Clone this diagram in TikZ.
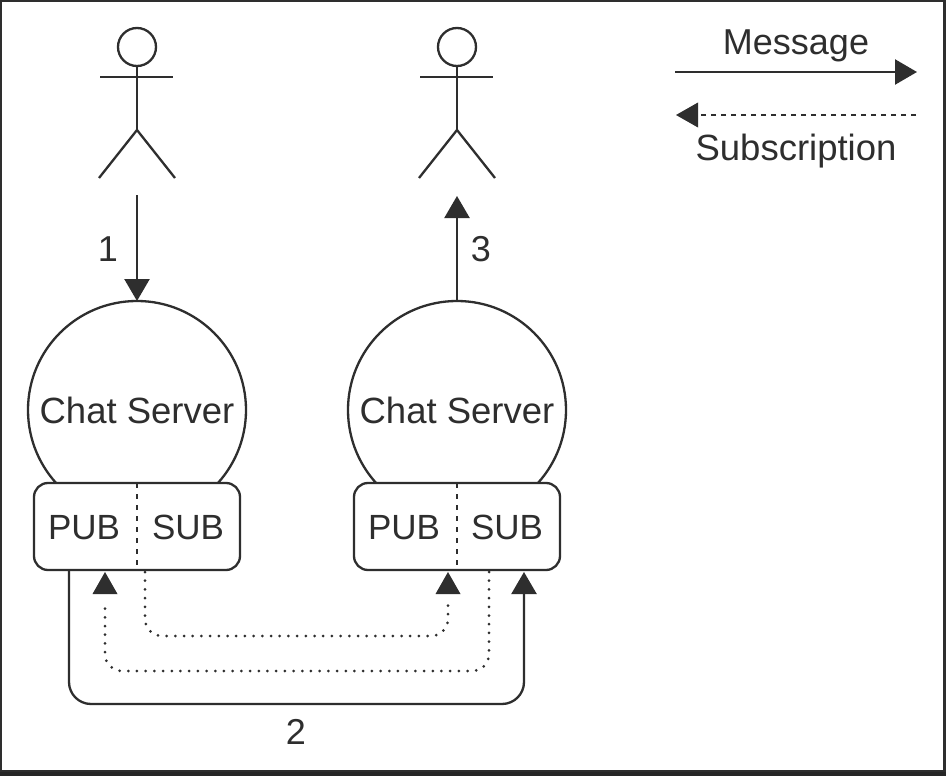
\documentclass[tikz,border=0pt]{standalone}
\usepackage{fontspec}
\setmainfont{Liberation Sans}
\usetikzlibrary{arrows.meta}
\definecolor{ink}{HTML}{2E2E2E}
\tikzset{
  x=1pt,y=-1pt,
  every node/.style={text=ink,inner sep=0pt,outer sep=0pt},
  line/.style={draw=ink,line width=2.3pt},
  msg/.style={line,-{Triangle[length=22pt,width=25pt]}},
  subs/.style={draw=ink,line width=3pt,line cap=round,dash pattern=on 0pt off 8.7pt,rounded corners=17pt},
  subtip/.style={fill=ink,draw=none},
  server/.style={circle,line,minimum size=218pt,font=\fontsize{36.5}{36.5}\selectfont},
  sock/.style={line,fill=white,rounded corners=14pt,minimum width=206pt,minimum height=87pt},
  lbl/.style={font=\fontsize{36}{36}\selectfont},
  plbl/.style={font=\fontsize{35}{35}\selectfont,anchor=base},
  head/.style={circle,line,minimum size=38pt},
  partdiv/.style={draw=ink,line width=2.4pt,dash pattern=on 5pt off 6pt}
}
\newcommand{\stick}[2]{%
  \node[head] (#2h) at (#1,47) {};
  \coordinate (#2hip) at (#1,130);
  \coordinate (#2la) at (#1-37,77);
  \coordinate (#2ra) at (#1+36,77);
  \coordinate (#2ll) at (#1-38,178);
  \coordinate (#2rl) at (#1+38,178);
  \draw[line] (#2h.south) -- (#2hip);
  \draw[line] (#2la) -- (#2ra);
  \draw[line] (#2ll) -- (#2hip) -- (#2rl);
}
\begin{document}
\begin{tikzpicture}
\useasboundingbox (0,0) rectangle (946,776);
\fill[white] (0,0) rectangle (946,776);
% frame
\draw[draw=ink,line width=2.5pt] (1,1) -- (944.5,1) -- (944.5,771) -- (1,771) -- cycle;
\fill[black!85] (0,772) rectangle (946,776);

\stick{137}{a}
\stick{457}{b}

\node[server] (s1) at (137,410) {Chat Server};
\node[server] (s2) at (457,410) {Chat Server};

\node[sock] (k1) at (137,526.5) {};
\node[sock] (k2) at (457,526.5) {};
\draw[partdiv] (k1.north) -- (k1.south);
\draw[partdiv] (k2.north) -- (k2.south);
\node[plbl] (p1) at (84,539) {PUB};
\node[plbl] (q1) at (188,539) {SUB};
\node[plbl] (p2) at (404,539) {PUB};
\node[plbl] (q2) at (507,539) {SUB};

% messages 1 and 3
\coordinate (afoot) at (137,195);
\coordinate (bfoot) at (457,196);
\draw[msg] (afoot) -- (s1.north);
\draw[msg] (s2.north) -- (bfoot);
\node[lbl] (n1) at (108,249) {1};
\node[lbl] (n3) at (481,249) {3};

% bus
\coordinate (m1) at (69,570);
\coordinate (m2) at (524,572);
\draw[msg,rounded corners=22pt] (m1) -- (69,704) -- (524,704) -- (m2);
\node[lbl] (n2) at (296,732) {2};

% subscriptions
\coordinate (u1) at (145,572);
\coordinate (t1) at (448,602);
\draw[subs] (u1) -- (145,636) -- (448,636) -- (t1);
\coordinate (u2) at (489,572);
\coordinate (t2) at (105,602);
\draw[subs] (u2) -- (489,671) -- (105,671) -- (t2);
\fill[subtip] (448,572) -- (460.5,594) -- (435.5,594) -- cycle;
\fill[subtip] (105,572) -- (117.5,594) -- (92.5,594) -- cycle;

% legend
\node[lbl] (lm) at (796,46) {Message};
\coordinate (lm1) at (675,72);
\coordinate (lm2) at (917,72);
\draw[msg] (lm1) -- (lm2);
\coordinate (ls1) at (916,115);
\coordinate (ls2) at (698,115);
\draw[draw=ink,line width=2.2pt,dash pattern=on 5pt off 5pt] (ls1) -- (ls2);
\fill[subtip] (676,115) -- (698,102.5) -- (698,127.5) -- cycle;
\node[font=\fontsize{36.5}{36.5}\selectfont] (ls) at (796,151) {Subscription};
\end{tikzpicture}
\end{document}
